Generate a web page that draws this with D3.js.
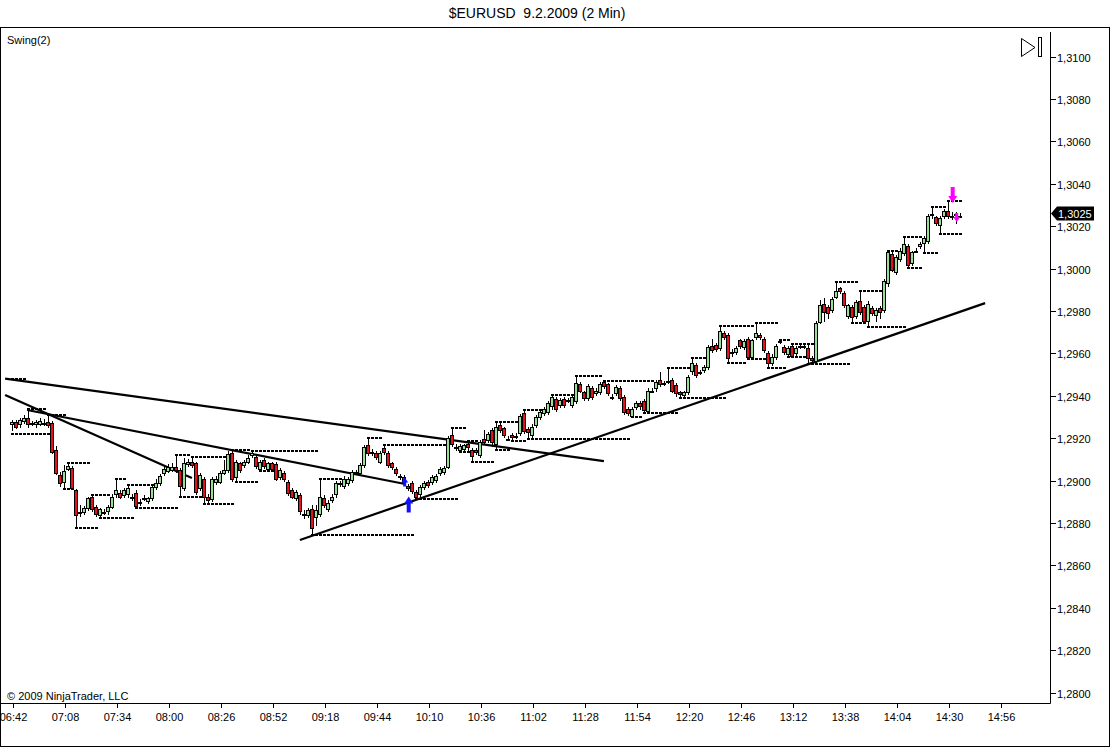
<!DOCTYPE html>
<html><head><meta charset="utf-8">
<script src="https://cdn.jsdelivr.net/npm/d3@7"></script>
<style>
body{margin:0;background:#fff}
svg{display:block}
text{font-family:"Liberation Sans",Arial,sans-serif;fill:#000}
</style>
</head><body>
<svg id="c" width="1112" height="747"></svg>
<script>
const chartTitle = "$EURUSD  9.2.2009 (2 Min)";
const indicatorLabel = "Swing(2)";
const copyright = "\u00a9 2009 NinjaTrader, LLC";
const timeLabels = ["06:42","07:08","07:34","08:00","08:26","08:52","09:18","09:44","10:10","10:36","11:02","11:28","11:54","12:20","12:46","13:12","13:38","14:04","14:30","14:56"];
const barsPerLabel = 13;
const priceTicks = [1.2800,1.2820,1.2840,1.2860,1.2880,1.2900,1.2920,1.2940,1.2960,1.2980,1.3000,1.3020,1.3040,1.3060,1.3080,1.3100];

const opens = [1.29265,1.29275,1.29265,1.29280,1.29295,1.29270,1.29265,1.29265,1.29270,1.29275,
1.29270,1.29145,1.29025,1.28995,1.29055,1.29060,1.28955,1.28850,1.28850,1.28870,
1.28925,1.28875,1.28840,1.28850,1.28855,1.28875,1.28935,1.28940,1.28930,1.28935,
1.28925,1.28940,1.28900,1.28920,1.28905,1.28920,1.28970,1.28990,1.29035,1.29045,
1.29050,1.29065,1.29050,1.28965,1.29080,1.29090,1.29085,1.28965,1.29010,1.28925,
1.28915,1.28995,1.28995,1.29035,1.29050,1.29130,1.29015,1.29085,1.29075,1.29090,
1.29120,1.29110,1.29055,1.29095,1.29055,1.29085,1.29080,1.29015,1.29035,1.28995,
1.28955,1.28920,1.28930,1.28845,1.28840,1.28865,1.28830,1.28845,1.28920,1.28865,
1.28910,1.28935,1.28990,1.28975,1.28990,1.29005,1.29040,1.29035,1.29075,1.29170,
1.29135,1.29130,1.29090,1.29155,1.29130,1.29085,1.29055,1.29020,1.29015,1.28975,
1.28990,1.28945,1.28935,1.28970,1.28995,1.28995,1.29005,1.29035,1.29040,1.29065,
1.29215,1.29160,1.29145,1.29150,1.29175,1.29145,1.29145,1.29120,1.29195,1.29190,
1.29240,1.29175,1.29260,1.29250,1.29195,1.29215,1.29210,1.29225,1.29320,1.29245,
1.29215,1.29260,1.29300,1.29320,1.29325,1.29350,1.29385,1.29355,1.29385,1.29380,
1.29355,1.29375,1.29455,1.29420,1.29390,1.29435,1.29415,1.29420,1.29465,1.29455,
1.29395,1.29415,1.29435,1.29395,1.29340,1.29305,1.29345,1.29365,1.29375,1.29330,
1.29425,1.29435,1.29475,1.29460,1.29470,1.29475,1.29450,1.29420,1.29405,1.29420,
1.29515,1.29545,1.29510,1.29520,1.29535,1.29635,1.29640,1.29625,1.29695,1.29685,
1.29605,1.29605,1.29665,1.29630,1.29670,1.29585,1.29675,1.29685,1.29670,1.29600,
1.29555,1.29585,1.29660,1.29630,1.29595,1.29635,1.29600,1.29635,1.29635,1.29625,
1.29580,1.29565,1.29750,1.29835,1.29820,1.29805,1.29865,1.29910,1.29885,1.29775,
1.29820,1.29775,1.29845,1.29820,1.29755,1.29815,1.29780,1.29815,1.29805,1.29930,
1.30070,1.29985,1.30045,1.30075,1.30105,1.30025,1.30085,1.30105,1.30120,1.30130,
1.30255,1.30245,1.30205,1.30250,1.30270,1.30250,1.30255,1.30245];

const highs = [1.29285,1.29285,1.29295,1.29310,1.29340,1.29280,1.29285,1.29295,1.29290,1.29310,
1.29280,1.29165,1.29040,1.29075,1.29085,1.29070,1.28960,1.28885,1.28880,1.28925,
1.28930,1.28885,1.28870,1.28865,1.28885,1.28935,1.29010,1.28955,1.28965,1.28980,
1.28935,1.28955,1.28915,1.28930,1.28925,1.28980,1.29010,1.29030,1.29070,1.29080,
1.29085,1.29120,1.29060,1.29105,1.29100,1.29110,1.29090,1.29035,1.29015,1.28935,
1.29015,1.29020,1.29045,1.29095,1.29140,1.29145,1.29095,1.29090,1.29095,1.29120,
1.29140,1.29120,1.29095,1.29105,1.29090,1.29090,1.29090,1.29060,1.29045,1.29005,
1.28965,1.28955,1.28940,1.28860,1.28870,1.28885,1.28885,1.29010,1.28930,1.28910,
1.28935,1.29000,1.29000,1.29020,1.29015,1.29050,1.29050,1.29085,1.29170,1.29200,
1.29150,1.29140,1.29140,1.29170,1.29140,1.29090,1.29065,1.29030,1.29025,1.28985,
1.29000,1.28955,1.28980,1.29000,1.29005,1.29025,1.29030,1.29065,1.29070,1.29210,
1.29250,1.29175,1.29175,1.29175,1.29185,1.29155,1.29155,1.29190,1.29240,1.29230,
1.29250,1.29275,1.29270,1.29255,1.29210,1.29225,1.29225,1.29315,1.29335,1.29255,
1.29265,1.29310,1.29335,1.29345,1.29375,1.29405,1.29395,1.29390,1.29395,1.29390,
1.29405,1.29495,1.29465,1.29425,1.29455,1.29445,1.29435,1.29465,1.29470,1.29460,
1.29410,1.29450,1.29445,1.29405,1.29345,1.29345,1.29375,1.29375,1.29385,1.29435,
1.29435,1.29475,1.29510,1.29470,1.29530,1.29485,1.29460,1.29425,1.29425,1.29500,
1.29580,1.29555,1.29520,1.29545,1.29640,1.29670,1.29650,1.29730,1.29705,1.29695,
1.29620,1.29635,1.29670,1.29670,1.29675,1.29670,1.29745,1.29695,1.29675,1.29610,
1.29595,1.29645,1.29665,1.29640,1.29635,1.29645,1.29635,1.29645,1.29645,1.29640,
1.29590,1.29755,1.29850,1.29860,1.29830,1.29865,1.29935,1.29915,1.29895,1.29835,
1.29830,1.29850,1.29895,1.29830,1.29845,1.29825,1.29815,1.29825,1.29950,1.30085,
1.30080,1.30065,1.30095,1.30150,1.30115,1.30085,1.30095,1.30125,1.30155,1.30255,
1.30290,1.30250,1.30250,1.30280,1.30320,1.30265,1.30265,1.30260];

const lows = [1.29240,1.29250,1.29255,1.29270,1.29255,1.29260,1.29255,1.29260,1.29260,1.29255,
1.29130,1.29030,1.28975,1.28960,1.29050,1.28965,1.28775,1.28835,1.28845,1.28860,
1.28855,1.28835,1.28825,1.28845,1.28845,1.28870,1.28925,1.28920,1.28925,1.28925,
1.28910,1.28870,1.28885,1.28910,1.28895,1.28910,1.28960,1.28980,1.29025,1.29040,
1.29045,1.29040,1.28925,1.28955,1.29070,1.29065,1.28935,1.28955,1.28890,1.28900,
1.28905,1.28985,1.28990,1.29030,1.29040,1.29000,1.28995,1.29040,1.29065,1.29085,
1.29110,1.29060,1.29045,1.29060,1.29050,1.29045,1.29005,1.29010,1.29000,1.28930,
1.28920,1.28910,1.28845,1.28825,1.28830,1.28745,1.28790,1.28835,1.28875,1.28855,
1.28900,1.28925,1.28975,1.28965,1.28980,1.28995,1.29030,1.29025,1.29065,1.29120,
1.29120,1.29100,1.29085,1.29125,1.29065,1.29055,1.29025,1.29010,1.28985,1.28955,
1.28940,1.28915,1.28925,1.28960,1.28970,1.28985,1.28995,1.29025,1.29030,1.29060,
1.29165,1.29145,1.29135,1.29140,1.29135,1.29090,1.29125,1.29110,1.29175,1.29180,
1.29165,1.29145,1.29230,1.29205,1.29190,1.29185,1.29200,1.29215,1.29225,1.29195,
1.29205,1.29255,1.29290,1.29310,1.29315,1.29340,1.29330,1.29345,1.29345,1.29370,
1.29345,1.29365,1.29420,1.29380,1.29380,1.29385,1.29405,1.29410,1.29435,1.29405,
1.29385,1.29405,1.29380,1.29315,1.29310,1.29300,1.29340,1.29340,1.29320,1.29325,
1.29420,1.29425,1.29445,1.29450,1.29460,1.29420,1.29400,1.29390,1.29400,1.29410,
1.29505,1.29490,1.29505,1.29510,1.29525,1.29605,1.29610,1.29615,1.29670,1.29555,
1.29590,1.29595,1.29625,1.29620,1.29575,1.29575,1.29670,1.29670,1.29605,1.29530,
1.29545,1.29575,1.29650,1.29595,1.29585,1.29585,1.29590,1.29625,1.29625,1.29550,
1.29555,1.29560,1.29745,1.29755,1.29765,1.29795,1.29860,1.29885,1.29820,1.29765,
1.29745,1.29765,1.29785,1.29745,1.29725,1.29780,1.29755,1.29765,1.29795,1.29920,
1.29990,1.29975,1.30035,1.30065,1.30005,1.30015,1.30080,1.30095,1.30075,1.30120,
1.30240,1.30205,1.30165,1.30240,1.30240,1.30235,1.30215,1.30245];

const closes = [1.29275,1.29255,1.29285,1.29295,1.29265,1.29270,1.29275,1.29280,1.29270,1.29260,
1.29135,1.29035,1.28990,1.29045,1.29070,1.28965,1.28840,1.28850,1.28870,1.28920,
1.28865,1.28845,1.28865,1.28850,1.28875,1.28925,1.28955,1.28925,1.28955,1.28965,
1.28925,1.28880,1.28900,1.28920,1.28920,1.28970,1.28990,1.29020,1.29055,1.29065,
1.29065,1.29050,1.28975,1.29085,1.29090,1.29075,1.28945,1.29025,1.28925,1.28910,
1.29010,1.29010,1.29035,1.29050,1.29125,1.29010,1.29090,1.29050,1.29090,1.29105,
1.29130,1.29070,1.29090,1.29070,1.29085,1.29055,1.29010,1.29050,1.29010,1.28940,
1.28925,1.28945,1.28855,1.28840,1.28860,1.28775,1.28860,1.28925,1.28885,1.28895,
1.28925,1.28990,1.28990,1.29010,1.29010,1.29040,1.29040,1.29075,1.29160,1.29130,
1.29135,1.29110,1.29130,1.29135,1.29075,1.29065,1.29035,1.29020,1.28995,1.28965,
1.28950,1.28925,1.28970,1.28990,1.28980,1.29015,1.29020,1.29055,1.29060,1.29200,
1.29175,1.29160,1.29165,1.29170,1.29160,1.29115,1.29135,1.29180,1.29180,1.29220,
1.29180,1.29255,1.29240,1.29215,1.29195,1.29205,1.29210,1.29305,1.29235,1.29230,
1.29255,1.29300,1.29325,1.29340,1.29365,1.29395,1.29340,1.29380,1.29355,1.29380,
1.29395,1.29460,1.29425,1.29390,1.29445,1.29395,1.29425,1.29455,1.29445,1.29415,
1.29395,1.29440,1.29390,1.29325,1.29320,1.29340,1.29365,1.29350,1.29335,1.29425,
1.29425,1.29465,1.29455,1.29460,1.29470,1.29425,1.29415,1.29410,1.29420,1.29490,
1.29555,1.29500,1.29510,1.29535,1.29630,1.29615,1.29620,1.29705,1.29675,1.29580,
1.29605,1.29625,1.29635,1.29660,1.29585,1.29665,1.29695,1.29675,1.29615,1.29555,
1.29585,1.29635,1.29660,1.29605,1.29625,1.29590,1.29625,1.29635,1.29635,1.29580,
1.29570,1.29745,1.29830,1.29795,1.29790,1.29855,1.29895,1.29895,1.29830,1.29830,
1.29770,1.29840,1.29795,1.29755,1.29835,1.29790,1.29805,1.29795,1.29940,1.30080,
1.29995,1.30055,1.30085,1.30115,1.30015,1.30080,1.30085,1.30115,1.30145,1.30250,
1.30255,1.30215,1.30240,1.30270,1.30250,1.30250,1.30255,1.30250];

// swing state carried in from bars before the first visible bar
const priorSwingHigh = 1.29480;
const priorSwingLow = 1.29220;
const swingStrength = 2;

// hand-drawn trend lines: [barIndex, price] end points
const trendLines = [
  [[-1.9, 1.29481], [147.8, 1.29092]],
  [[-1.9, 1.29404], [44.8, 1.29012]],
  [[3.6, 1.29333], [98.1, 1.28984]],
  [[71.8, 1.28720], [243.1, 1.29837]]
];
// signal arrows: bar, tip price, direction, size
const arrowBars   = [99, 98, 235, 236];
const arrowPrices = [1.28925, 1.29015, 1.30309, 1.30219];
const arrowDirs   = ["up", "up", "down", "down"];
const arrowSizes  = ["big", "small", "big", "small"];
const arrowColors = ["#1010ff", "#1010ff", "#ff00ff", "#ff00ff"];
const lastPrice = 1.3025;

// ---------- layout ----------
const svg = d3.select("#c");
const plotR = 1050, plotB = 703;
const x = d3.scaleLinear().domain([0, (timeLabels.length - 1) * barsPerLabel]).range([12.7, 1000.7]);
const y = d3.scaleLinear().domain([1.28, 1.31]).range([692.7, 56.5]);
const fmt = v => d3.format(".4f")(v).replace(".", ",");

svg.append("text").attr("x", 537).attr("y", 18).attr("text-anchor", "middle")
  .style("font-size", "14px").style("white-space", "pre").text(chartTitle);

svg.append("rect").attr("x", 0.5).attr("y", 27.5).attr("width", 1109).attr("height", 719)
  .attr("fill", "none").attr("stroke", "#000");

const defs = svg.append("defs");
defs.append("clipPath").attr("id", "plotclip").append("rect")
  .attr("x", 1).attr("y", 28).attr("width", plotR - 1).attr("height", plotB - 28);
const plot = svg.append("g").attr("clip-path", "url(#plotclip)");

// ---------- swing indicator (computed from highs / lows) ----------
function swing(vals, prior, isHigh) {
  const n = vals.length, out = new Array(n).fill(null);
  const better = (a, b) => isHigh ? a > b : a < b;
  let cur = prior;
  for (let t = 0; t < n; t++) {
    const c = t - swingStrength;
    let found = false;
    if (c - swingStrength >= 0) {
      found = true;
      for (let k = c - swingStrength; k < c; k++) if (!better(vals[c], vals[k])) found = false;
      for (let k = c + 1; k <= t; k++) if (better(vals[k], vals[c])) found = false;
    }
    if (found) {
      cur = vals[c];
      for (let k = c; k <= t; k++) out[k] = cur;
    } else if (cur !== null && better(vals[t], cur)) {
      cur = null; out[t] = null;
    } else if (cur !== null) out[t] = cur;
  }
  return out;
}
const swingHi = swing(highs, priorSwingHigh, true);
const swingLo = swing(lows, priorSwingLow, false);
const hashes = [];
swingHi.forEach((v, i) => { if (v !== null) hashes.push([i, v]); });
swingLo.forEach((v, i) => { if (v !== null) hashes.push([i, v]); });
plot.append("g").selectAll("rect").data(hashes).join("rect")
  .attr("x", d => Math.round(x(d[0])) - 2).attr("y", d => Math.round(y(d[1])) - 1)
  .attr("width", 3).attr("height", 2).attr("fill", "#000").attr("shape-rendering", "crispEdges");

// ---------- trend lines ----------
plot.append("g").selectAll("line").data(trendLines).join("line")
  .attr("x1", d => x(d[0][0])).attr("y1", d => y(d[0][1]))
  .attr("x2", d => x(d[1][0])).attr("y2", d => y(d[1][1]))
  .attr("stroke", "#000").attr("stroke-width", 2.2);

// ---------- candles ----------
const bars = opens.map((o, i) => ({i, o, h: highs[i], l: lows[i], c: closes[i]}));
const cg = plot.append("g");
const cx = d => Math.round(x(d.i));
cg.selectAll("line.wick").data(bars).join("line").attr("class", "wick")
  .attr("x1", d => cx(d) - 0.5).attr("x2", d => cx(d) - 0.5)
  .attr("y1", d => Math.round(y(Math.max(d.h, d.o, d.c))))
  .attr("y2", d => Math.round(y(Math.min(d.l, d.o, d.c))) + 1)
  .attr("stroke", "#000").attr("stroke-width", 1);
cg.selectAll("rect.body").data(bars).join("rect").attr("class", "body")
  .attr("x", d => cx(d) - 2.5)
  .attr("y", d => Math.round(y(Math.max(d.o, d.c))) + 0.5)
  .attr("width", 3)
  .attr("height", d => Math.max(1, Math.round(y(Math.min(d.o, d.c))) - Math.round(y(Math.max(d.o, d.c)))))
  .attr("fill", d => d.c > d.o ? "#98e098" : d.c < d.o ? "#e8101a" : "#fff")
  .attr("stroke", "#000").attr("stroke-width", 1);

// ---------- arrows ----------
const arrows = arrowBars.map((b, k) => ({b, p: arrowPrices[k], dir: arrowDirs[k], size: arrowSizes[k], col: arrowColors[k]}));
plot.append("g").selectAll("path").data(arrows).join("path")
  .attr("d", a => {
    const X = x(a.b), Y = y(a.p), s = a.dir === "up" ? 1 : -1;
    const big = a.size === "big";
    const L = big ? 16 : 9, hw = big ? 4.5 : 3.5, hh = big ? 7 : 5, sw = big ? 2 : 1.5;
    return `M${X},${Y} L${X + hw},${Y + s * hh} L${X + sw},${Y + s * hh} L${X + sw},${Y + s * L} L${X - sw},${Y + s * L} L${X - sw},${Y + s * hh} L${X - hw},${Y + s * hh} Z`;
  })
  .attr("fill", a => a.col);

// ---------- axes ----------
svg.append("line").attr("x1", 0).attr("x2", plotR + 0.5).attr("y1", plotB + 0.5).attr("y2", plotB + 0.5).attr("stroke", "#000");
svg.append("line").attr("x1", plotR + 0.5).attr("x2", plotR + 0.5).attr("y1", 32).attr("y2", plotB + 0.5).attr("stroke", "#000");

const xt = svg.append("g");
timeLabels.forEach((lab, k) => {
  const px = Math.round(x(k * barsPerLabel)) + 0.5;
  xt.append("line").attr("x1", px).attr("x2", px).attr("y1", plotB).attr("y2", plotB + 5).attr("stroke", "#000");
  xt.append("text").attr("x", px).attr("y", 721).attr("text-anchor", "middle").style("font-size", "11px").text(lab);
});
const yt = svg.append("g");
priceTicks.forEach(p => {
  const py = Math.round(y(p)) + 0.5;
  yt.append("line").attr("x1", plotR).attr("x2", plotR + 6).attr("y1", py).attr("y2", py).attr("stroke", "#000");
  yt.append("text").attr("x", plotR + 7).attr("y", py + 4).style("font-size", "11px").text(fmt(p));
});
svg.append("line").attr("x1", 0.5).attr("x2", 0.5).attr("y1", 27).attr("y2", 747).attr("stroke", "#000");

// last price marker
const ly = y(lastPrice) - 2;
svg.append("path").attr("d", `M${plotR + 1},${ly} L${plotR + 7},${ly - 7} L${plotR + 44},${ly - 7} L${plotR + 44},${ly + 7} L${plotR + 7},${ly + 7} Z`).attr("fill", "#000");
svg.append("text").attr("x", plotR + 8).attr("y", ly + 4).style("font-size", "11px").style("fill", "#fff").text(fmt(lastPrice));

svg.append("text").attr("x", 7).attr("y", 44).style("font-size", "11px").text(indicatorLabel);
svg.append("text").attr("x", 7).attr("y", 700).style("font-size", "11px").text(copyright);

svg.append("path").attr("d", "M1021.5,38.5 L1021.5,56.5 L1035,47.5 Z").attr("fill", "#fff").attr("stroke", "#000");
svg.append("rect").attr("x", 1038.5).attr("y", 37.5).attr("width", 3).attr("height", 19).attr("fill", "#fff").attr("stroke", "#000");
</script>
</body></html>
